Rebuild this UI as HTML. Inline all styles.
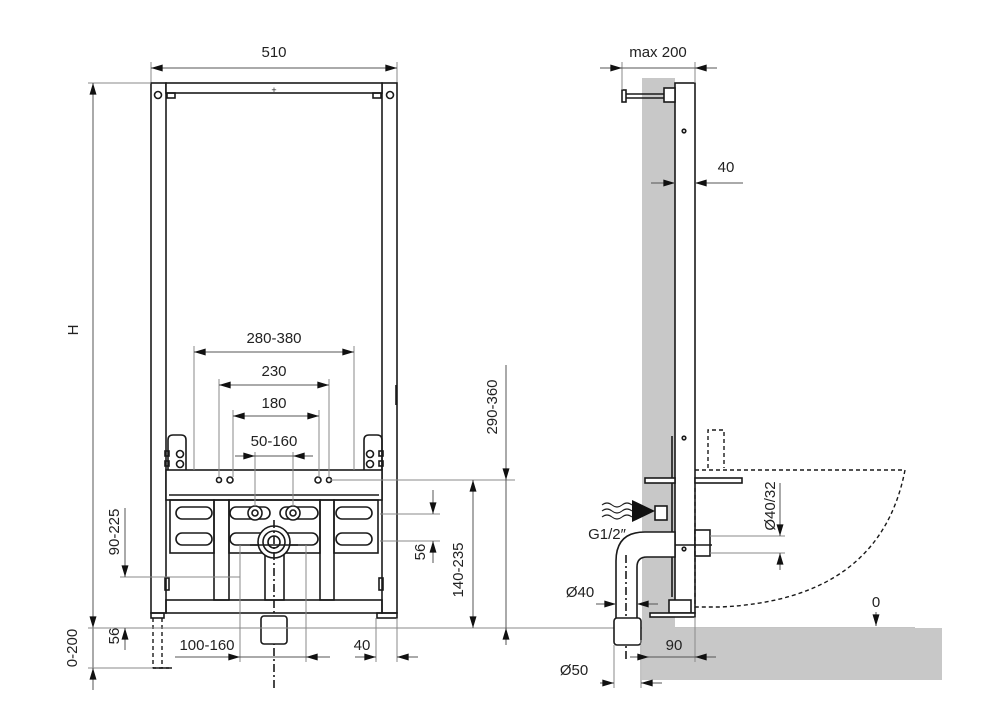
<!DOCTYPE html>
<html><head><style>
html,body{margin:0;padding:0;background:#fff;}
svg{display:block;}
text{font-family:"Liberation Sans","DejaVu Sans",sans-serif;font-size:15px;fill:#222;}
.k{stroke:#1a1a1a;fill:none;stroke-width:1.6}
.kf{stroke:#1a1a1a;fill:#fff;stroke-width:1.6}
.g{stroke:#8a8a8a;fill:none;stroke-width:1}
.d{stroke:#555;fill:none;stroke-width:1}
.ds{stroke:#1a1a1a;fill:none;stroke-width:1.4;stroke-dasharray:4 3}
</style></head><body>
<svg width="987" height="727" viewBox="0 0 987 727" xmlns="http://www.w3.org/2000/svg">
<defs>
<marker id="a" viewBox="0 0 10 6" refX="10" refY="3" markerWidth="14" markerHeight="7" markerUnits="userSpaceOnUse" orient="auto-start-reverse"><path d="M0,0L10,3L0,6z" fill="#111"/></marker>
</defs>

<!-- ===== FRONT VIEW ===== -->
<line class="g" x1="151" y1="62" x2="151" y2="83"/><line class="g" x1="397" y1="62" x2="397" y2="83"/>
<line class="d" x1="151" y1="68" x2="397" y2="68" marker-start="url(#a)" marker-end="url(#a)"/>
<text x="274" y="57" text-anchor="middle">510</text>

<rect class="kf" x="151" y="83" width="15" height="530"/>
<rect class="kf" x="382" y="83" width="15" height="530"/>
<rect class="kf" x="166" y="83" width="216" height="10"/>
<rect class="k" x="167" y="93" width="8" height="5"/><rect class="k" x="373" y="93" width="8" height="5"/>
<circle class="k" cx="158" cy="95" r="3.5"/><circle class="k" cx="390" cy="95" r="3.5"/>
<text x="274" y="93" text-anchor="middle" style="font-size:9px">+</text>
<line class="k" x1="396" y1="385" x2="396" y2="405" stroke-width="2.5"/>

<path class="k" d="M168,470V440q0-5 5-5h8q5 0 5 5v30"/>
<path class="k" d="M364,470V440q0-5 5-5h8q5 0 5 5v30"/>
<circle class="k" cx="180" cy="454" r="3.5"/><circle class="k" cx="180" cy="464" r="3.5"/>
<circle class="k" cx="370" cy="454" r="3.5"/><circle class="k" cx="370" cy="464" r="3.5"/>
<rect class="k" x="165" y="451" width="4" height="5"/><rect class="k" x="165" y="461" width="4" height="5"/>
<rect class="k" x="379" y="451" width="4" height="5"/><rect class="k" x="379" y="461" width="4" height="5"/>

<rect class="kf" x="166" y="470" width="216" height="30"/>
<line class="k" x1="169" y1="495" x2="379" y2="495"/>
<circle class="k" cx="219" cy="480" r="2.5"/><circle class="k" cx="230" cy="480" r="3"/>
<circle class="k" cx="318" cy="480" r="3"/><circle class="k" cx="329" cy="480" r="2.5"/>

<rect class="k" x="170" y="500" width="44" height="53"/>
<rect class="k" x="334" y="500" width="44" height="53"/>
<rect class="k" x="214" y="500" width="15" height="100"/>
<rect class="k" x="320" y="500" width="14" height="100"/>
<rect class="k" x="229" y="500" width="91" height="53"/>
<rect class="k" x="176" y="507" width="36" height="12" rx="6"/><rect class="k" x="176" y="533" width="36" height="12" rx="6"/>
<rect class="k" x="336" y="507" width="36" height="12" rx="6"/><rect class="k" x="336" y="533" width="36" height="12" rx="6"/>
<rect class="k" x="230" y="507" width="40" height="12" rx="6"/><rect class="k" x="280" y="507" width="38" height="12" rx="6"/>
<rect class="k" x="230" y="533" width="40" height="12" rx="6"/><rect class="k" x="280" y="533" width="38" height="12" rx="6"/>
<circle class="kf" cx="255" cy="513" r="7"/><circle class="k" cx="255" cy="513" r="3"/>
<circle class="kf" cx="293" cy="513" r="7"/><circle class="k" cx="293" cy="513" r="3"/>
<rect class="kf" x="265" y="555" width="19" height="45"/>
<circle class="kf" cx="274" cy="542" r="16"/><circle class="k" cx="274" cy="542" r="11"/><circle class="k" cx="274" cy="542" r="6"/>
<line class="k" x1="250" y1="545" x2="298" y2="545"/>
<line class="k" x1="274" y1="520" x2="274" y2="690" stroke-dasharray="8 3 2 3" stroke-width="1"/>
<rect class="k" x="166" y="600" width="216" height="13"/>
<rect class="k" x="165" y="578" width="4" height="12"/><rect class="k" x="379" y="578" width="4" height="12"/>
<rect class="kf" x="261" y="616" width="26" height="28" rx="3"/>
<rect class="k" x="151" y="613" width="13" height="5"/><rect class="k" x="377" y="613" width="20" height="5"/>
<path class="ds" d="M153,618V668h16M162,618V668"/><line class="k" x1="153" y1="668" x2="172" y2="668"/>

<line class="g" x1="88" y1="83" x2="151" y2="83"/>
<line class="d" x1="93" y1="83" x2="93" y2="628" marker-start="url(#a)" marker-end="url(#a)"/>
<line class="d" x1="93" y1="628" x2="93" y2="690"/>
<line class="g" x1="88" y1="668" x2="153" y2="668"/>
<line class="d" x1="93" y1="668" x2="93" y2="690" marker-start="url(#a)"/>
<text transform="translate(78,330) rotate(-90)" text-anchor="middle">H</text>
<text transform="translate(77,648) rotate(-90)" text-anchor="middle">0-200</text>
<line class="g" x1="88" y1="628" x2="915" y2="628"/>
<line class="g" x1="120" y1="577" x2="240" y2="577"/>
<line class="d" x1="125" y1="508" x2="125" y2="577" marker-end="url(#a)"/>
<line class="d" x1="125" y1="628" x2="125" y2="650" marker-start="url(#a)"/>
<text transform="translate(119,532) rotate(-90)" text-anchor="middle">90-225</text>
<text transform="translate(119,636) rotate(-90)" text-anchor="middle">56</text>

<line class="g" x1="194" y1="346" x2="194" y2="470"/><line class="g" x1="354" y1="346" x2="354" y2="470"/>
<line class="d" x1="194" y1="352" x2="354" y2="352" marker-start="url(#a)" marker-end="url(#a)"/>
<text x="274" y="343" text-anchor="middle">280-380</text>
<line class="g" x1="219" y1="379" x2="219" y2="477"/><line class="g" x1="329" y1="379" x2="329" y2="477"/>
<line class="d" x1="219" y1="385" x2="329" y2="385" marker-start="url(#a)" marker-end="url(#a)"/>
<text x="274" y="376" text-anchor="middle">230</text>
<line class="g" x1="233" y1="410" x2="233" y2="477"/><line class="g" x1="319" y1="410" x2="319" y2="477"/>
<line class="d" x1="233" y1="416" x2="319" y2="416" marker-start="url(#a)" marker-end="url(#a)"/>
<text x="274" y="408" text-anchor="middle">180</text>
<line class="g" x1="255" y1="452" x2="255" y2="506"/><line class="g" x1="293" y1="452" x2="293" y2="506"/>
<line class="d" x1="235" y1="456" x2="255" y2="456" marker-end="url(#a)"/>
<line class="d" x1="255" y1="456" x2="293" y2="456"/>
<line class="d" x1="313" y1="456" x2="293" y2="456" marker-end="url(#a)"/>
<text x="274" y="446" text-anchor="middle">50-160</text>

<line class="g" x1="240" y1="545" x2="240" y2="662"/><line class="g" x1="306" y1="545" x2="306" y2="662"/>
<line class="d" x1="175" y1="657" x2="240" y2="657" marker-end="url(#a)"/>
<line class="d" x1="240" y1="657" x2="306" y2="657"/>
<line class="d" x1="330" y1="657" x2="306" y2="657" marker-end="url(#a)"/>
<text x="207" y="650" text-anchor="middle">100-160</text>
<line class="g" x1="376" y1="618" x2="376" y2="662"/><line class="g" x1="397" y1="618" x2="397" y2="662"/>
<line class="d" x1="355" y1="657" x2="376" y2="657" marker-end="url(#a)"/>
<line class="d" x1="418" y1="657" x2="397" y2="657" marker-end="url(#a)"/>
<text x="362" y="650" text-anchor="middle">40</text>

<line class="g" x1="330" y1="480" x2="515" y2="480"/>
<line class="g" x1="380" y1="514" x2="440" y2="514"/>
<line class="g" x1="380" y1="541" x2="440" y2="541"/>
<line class="d" x1="506" y1="365" x2="506" y2="480" marker-end="url(#a)"/>
<line class="d" x1="506" y1="480" x2="506" y2="640"/>
<line class="d" x1="506" y1="645" x2="506" y2="628" marker-end="url(#a)"/>
<text transform="translate(497,407) rotate(-90)" text-anchor="middle">290-360</text>
<line class="d" x1="473" y1="480" x2="473" y2="628" marker-start="url(#a)" marker-end="url(#a)"/>
<text transform="translate(463,570) rotate(-90)" text-anchor="middle">140-235</text>
<line class="d" x1="433" y1="490" x2="433" y2="514" marker-end="url(#a)"/>
<line class="d" x1="433" y1="563" x2="433" y2="541" marker-end="url(#a)"/>
<text transform="translate(425,552) rotate(-90)" text-anchor="middle">56</text>

<!-- ===== SIDE VIEW ===== -->
<rect x="642" y="78" width="33" height="550" fill="#c8c8c8"/>
<rect x="642" y="628" width="300" height="52" fill="#c8c8c8"/>
<rect class="kf" x="675" y="83" width="20" height="530"/>
<circle class="k" cx="684" cy="131" r="1.8"/><circle class="k" cx="684" cy="438" r="1.8"/><circle class="k" cx="684" cy="549" r="1.8"/>
<line class="k" x1="672" y1="436" x2="672" y2="597"/>
<rect class="k" x="622" y="90" width="4" height="12"/>
<line class="k" x1="626" y1="94" x2="664" y2="94"/><line class="k" x1="626" y1="98" x2="664" y2="98"/>
<rect class="kf" x="664" y="88" width="11" height="14"/>
<rect class="kf" x="645" y="478" width="30" height="5"/>
<rect class="kf" x="695" y="478" width="47" height="5"/>
<rect class="kf" x="655" y="506" width="12" height="14"/>
<rect class="kf" x="695" y="530" width="15" height="26"/>
<line class="k" x1="658" y1="545" x2="712" y2="545" stroke-width="1"/>
<rect class="kf" x="669" y="600" width="22" height="13"/>
<rect class="kf" x="650" y="613" width="45" height="4"/>
<path class="kf" d="M675,532H645q-29 0-29 29V620H637V567q0-10 10-10H675z"/>
<line class="k" x1="626" y1="555" x2="626" y2="660" stroke-dasharray="8 3 2 3" stroke-width="1"/>
<rect class="kf" x="614" y="618" width="27" height="27" rx="3"/>
<path class="ds" d="M708,468V430h16v38"/>
<path class="ds" d="M695,470H905Q880,600 720,607H695V485"/>
<line class="g" x1="622" y1="62" x2="622" y2="90"/><line class="g" x1="695" y1="62" x2="695" y2="83"/>
<line class="d" x1="600" y1="68" x2="622" y2="68" marker-end="url(#a)"/>
<line class="d" x1="622" y1="68" x2="695" y2="68"/>
<line class="d" x1="717" y1="68" x2="695" y2="68" marker-end="url(#a)"/>
<text x="658" y="57" text-anchor="middle">max 200</text>
<line class="d" x1="651" y1="183" x2="675" y2="183" marker-end="url(#a)"/>
<line class="d" x1="743" y1="183" x2="695" y2="183" marker-end="url(#a)"/>
<text x="726" y="172" text-anchor="middle">40</text>
<line class="g" x1="710" y1="536" x2="785" y2="536"/><line class="g" x1="710" y1="553" x2="785" y2="553"/>
<line class="d" x1="780" y1="483" x2="780" y2="536" marker-end="url(#a)"/>
<line class="d" x1="780" y1="570" x2="780" y2="553" marker-end="url(#a)"/>
<text transform="translate(775,506) rotate(-90)" text-anchor="middle">Ø40/32</text>
<path d="M602,505q5-4 10 0t10 0t10 0M602,511q5-4 10 0t10 0t10 0M602,517q5-4 10 0t10 0t10 0" stroke="#222" fill="none" stroke-width="1.1"/>
<path d="M632,500L655,511L632,522z" fill="#111"/>
<text x="607" y="539" text-anchor="middle">G1/2″</text>
<line class="d" x1="596" y1="604" x2="616" y2="604" marker-end="url(#a)"/>
<line class="d" x1="658" y1="604" x2="637" y2="604" marker-end="url(#a)"/>
<text x="580" y="597" text-anchor="middle">Ø40</text>
<line class="g" x1="614" y1="645" x2="614" y2="688"/><line class="g" x1="641" y1="640" x2="641" y2="688"/>
<line class="d" x1="600" y1="683" x2="614" y2="683" marker-end="url(#a)"/>
<line class="d" x1="662" y1="683" x2="641" y2="683" marker-end="url(#a)"/>
<text x="574" y="675" text-anchor="middle">Ø50</text>
<line class="g" x1="695" y1="617" x2="695" y2="662"/>
<line class="d" x1="630" y1="657" x2="649" y2="657" marker-end="url(#a)"/>
<line class="d" x1="649" y1="657" x2="695" y2="657"/>
<line class="d" x1="716" y1="657" x2="695" y2="657" marker-end="url(#a)"/>
<text x="674" y="650" text-anchor="middle">90</text>
<line class="d" x1="876" y1="612" x2="876" y2="626" marker-end="url(#a)"/>
<text x="876" y="607" text-anchor="middle">0</text>
</svg>
</body></html>
